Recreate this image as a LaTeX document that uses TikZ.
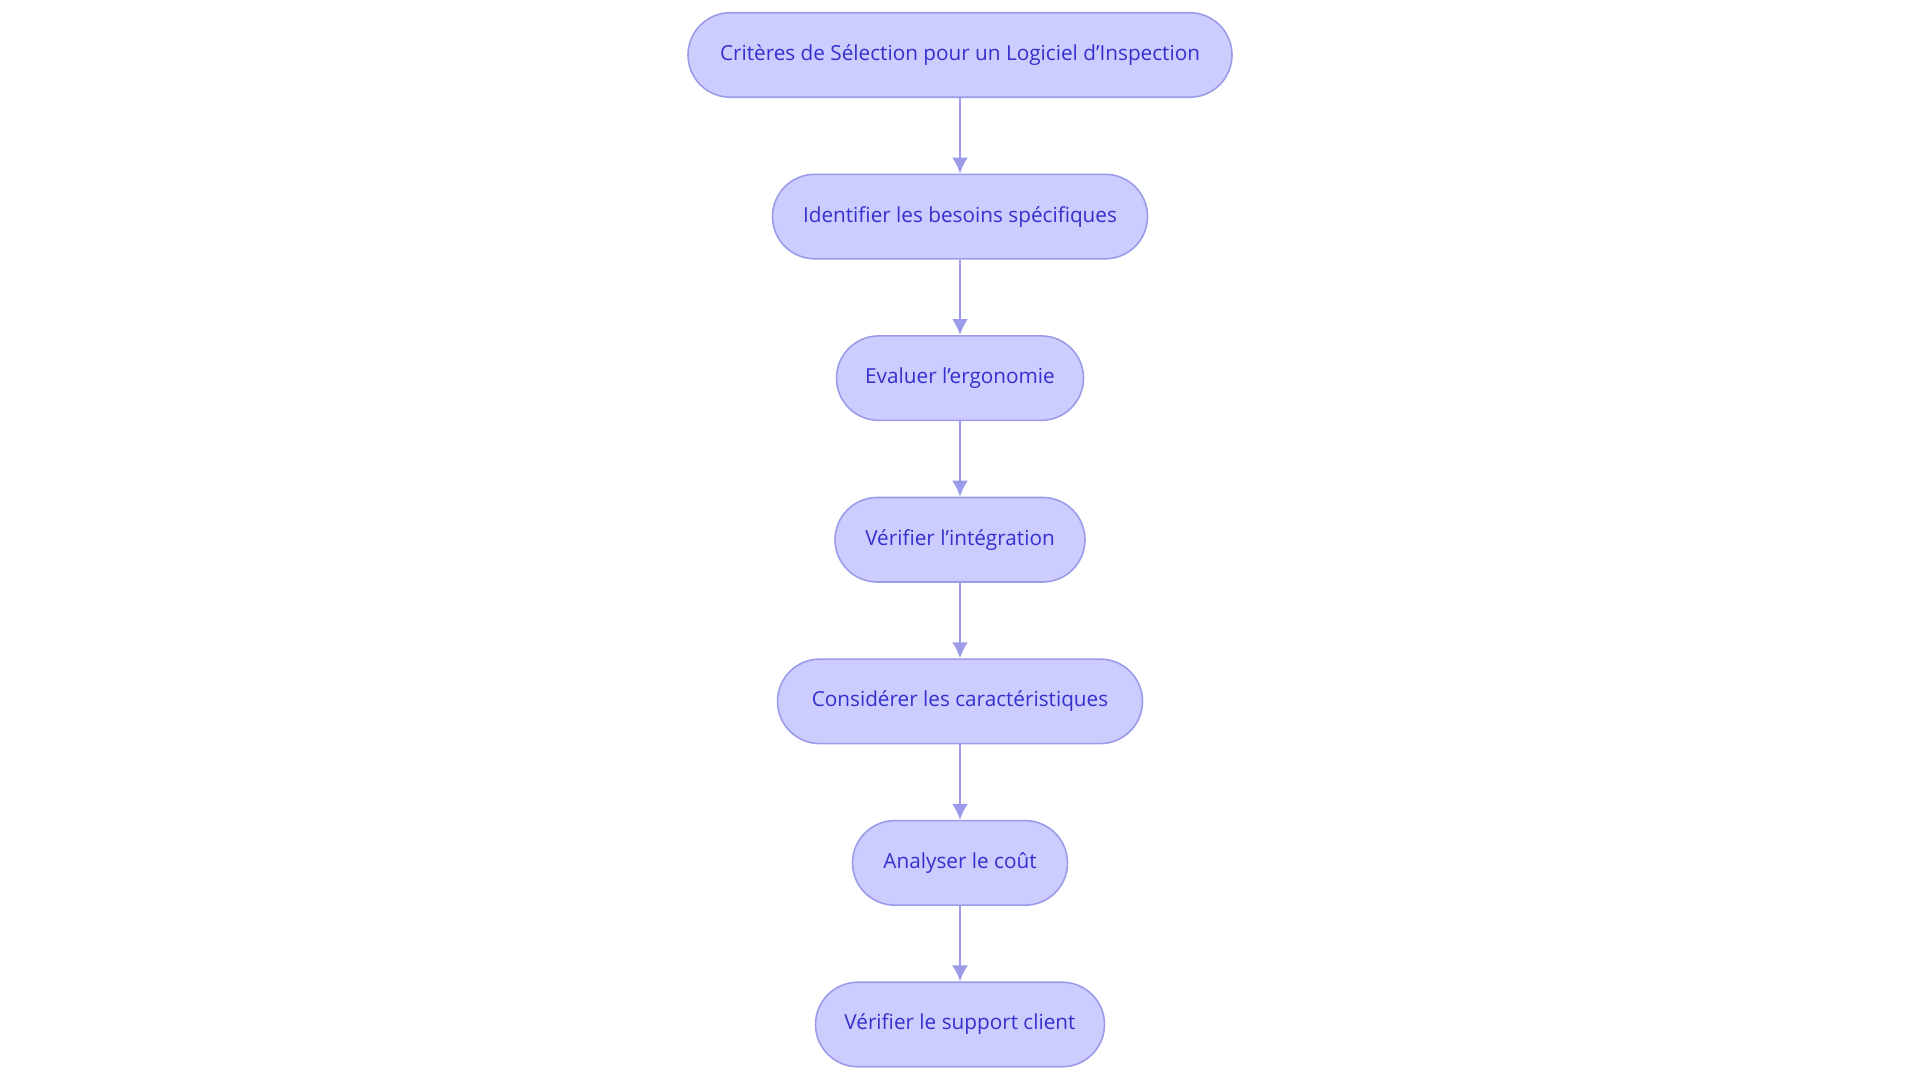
\documentclass[tikz,border=0pt]{standalone}
\usepackage{fontspec}
\setmainfont{Open Sans}
\usetikzlibrary{positioning}
\usetikzlibrary{arrows.meta}
\definecolor{boxfill}{HTML}{CCCCFF}
\definecolor{boxline}{HTML}{9B9BEA}
\definecolor{boxtext}{HTML}{3530CC}
\newcommand{\apo}{{\char39}}
\tikzset{
  Schritt/.style={draw=boxline, fill=boxfill, text=boxtext, line width=0.9pt,
    rounded corners=0.845cm, minimum height=1.69cm, font=\fontsize{11.8}{14}\selectfont},
  Pfeil/.style={draw=boxline, line width=1.3pt, -{Latex[length=3.2mm,width=3.2mm]}}
}
\begin{document}
\begin{tikzpicture}[node distance=1.51cm]
\useasboundingbox (0,0) rectangle (38.4,-21.66);

%Knoten
\node[Schritt, minimum width=10.88cm] (krit) at (19.2,-1.1) {Critères de Sélection pour un Logiciel d\apo Inspection};
\node[Schritt, minimum width=7.5cm, below=of krit] (bed) {Identifier les besoins spécifiques};
\node[Schritt, minimum width=4.94cm, below=of bed] (erg) {Evaluer l\apo ergonomie};
\node[Schritt, minimum width=5.0cm, below=of erg] (integ) {Vérifier l\apo intégration};
\node[Schritt, minimum width=7.3cm, below=of integ] (merk) {Considérer les caractéristiques};
\node[Schritt, minimum width=4.3cm, below=of merk] (kost) {Analyser le coût};
\node[Schritt, minimum width=5.78cm, below=of kost] (supp) {Vérifier le support client};

%Pfeile
\draw[Pfeil] (krit) -- (bed);
\draw[Pfeil] (bed) -- (erg);
\draw[Pfeil] (erg) -- (integ);
\draw[Pfeil] (integ) -- (merk);
\draw[Pfeil] (merk) -- (kost);
\draw[Pfeil] (kost) -- (supp);
\end{tikzpicture}
\end{document}
